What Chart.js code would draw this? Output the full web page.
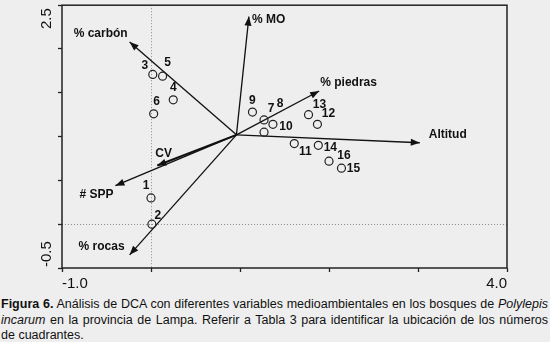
<!DOCTYPE html>
<html>
<head>
<meta charset="utf-8">
<script src="https://cdn.jsdelivr.net/npm/chart.js@4.4.0/dist/chart.umd.min.js"></script>
<style>
  body { margin: 0; background: #eeeeee; width: 550px; height: 342px; overflow: hidden; font-family: Arial, "Liberation Sans", sans-serif; }
  #wrap { position: relative; width: 550px; height: 342px; }
  canvas { position: absolute; left: 0; top: 0; }
  #caption { position: absolute; left: 1px; top: 297px; width: 547px; font-size: 12.5px; line-height: 15.5px; color: #111; }
  #caption div { white-space: nowrap; text-align: justify; text-align-last: justify; }
  #caption div.last { text-align-last: left; }
</style>
</head>
<body>
<div id="wrap">
  <canvas id="dcaChart" width="550" height="295"></canvas>
  <div id="caption">
    <div><b>Figura 6.</b> Análisis de DCA con diferentes variables medioambientales en los bosques de <i>Polylepis</i></div>
    <div><i>incarum</i> en la provincia de Lampa. Referir a Tabla 3 para identificar la ubicación de los números</div>
    <div class="last">de cuadrantes.</div>
  </div>
</div>
<script>
// sample units (cuadrantes)
var siteNames = ['1', '2', '3', '4', '5', '6', '7', '8', '9', '10', '11', '12', '13', '14', '15', '16'];
var siteX = [0.00, 0.01, 0.02, 0.25, 0.13, 0.03, 1.27, 1.27, 1.14, 1.37, 1.61, 1.87, 1.77, 1.88, 2.14, 2.00];
var siteY = [0.30, 0.00, 1.71, 1.42, 1.69, 1.26, 1.19, 1.05, 1.28, 1.14, 0.92, 1.14, 1.25, 0.90, 0.64, 0.72];

// environmental vectors
var vectorNames = ['% MO', '% carbón', '% piedras', 'Altitud', 'CV', '# SPP', '% rocas'];
var vectorX = [1.10, -0.24, 1.89, 3.02, 0.07, -0.40, -0.24];
var vectorY = [2.37, 2.08, 1.52, 0.93, 0.67, 0.44, -0.35];
var originX = 0.96;
var originY = 1.02;

// axis labels that are shown
var xTickLabels = [-1.0, 4.0];
var yTickLabels = [-0.5, 2.5];

// label placement (pixels from the mark)
var siteLabelOffset = {
  '1': [-5, -12], '2': [6, -9], '3': [-8, -9], '4': [0, -12], '5': [5, -13], '6': [3, -12],
  '7': [7, -11], '8': [16, -29], '9': [0, -11], '10': [13, 2], '11': [11, 8], '12': [11, -11],
  '13': [11, -10], '14': [12, 2], '15': [12, 1], '16': [15, -5]
};
var vectorLabelPos = {
  '% MO': [3, 3, 'left'], '% carbón': [-2, -8, 'right'], '% piedras': [1, -8, 'left'],
  'Altitud': [9, -8, 'left'], 'CV': [-2, -12, 'left'], '# SPP': [-2, 9, 'right'], '% rocas': [-5, -8, 'right']
};

var ink = '#111111';

var datasets = [{
  label: 'cuadrantes',
  data: siteX.map(function (x, i) { return { x: x, y: siteY[i] }; }),
  pointRadius: 4,
  pointBorderWidth: 1.2,
  pointBorderColor: '#222222',
  pointBackgroundColor: 'rgba(0,0,0,0)',
  showLine: false
}];
vectorNames.forEach(function (name, i) {
  datasets.push({
    label: name,
    data: [{ x: originX, y: originY }, { x: vectorX[i], y: vectorY[i] }],
    showLine: true,
    pointRadius: 0,
    borderColor: ink,
    borderWidth: name === 'CV' ? 2 : 1.3
  });
});

var dcaDecor = {
  id: 'dcaDecor',
  beforeDatasetsDraw: function (chart) {
    var ctx = chart.ctx, a = chart.chartArea, xs = chart.scales.x, ys = chart.scales.y;
    var x0 = Math.round(xs.getPixelForValue(0)) + 0.5;
    var y0 = Math.round(ys.getPixelForValue(0)) + 0.5;
    ctx.save();
    ctx.strokeStyle = '#8c8c8c';
    ctx.lineWidth = 1;
    ctx.setLineDash([1, 2]);
    ctx.beginPath();
    ctx.moveTo(x0, a.top); ctx.lineTo(x0, a.bottom);
    ctx.moveTo(a.left, y0); ctx.lineTo(a.right, y0);
    ctx.stroke();
    ctx.restore();
  },
  afterDatasetsDraw: function (chart) {
    var ctx = chart.ctx, a = chart.chartArea, xs = chart.scales.x, ys = chart.scales.y;
    ctx.save();
    var ox = xs.getPixelForValue(originX), oy = ys.getPixelForValue(originY);

    // arrow heads + vector names
    ctx.fillStyle = ink;
    ctx.font = 'bold 12px Arial, "Liberation Sans", sans-serif';
    ctx.textBaseline = 'middle';
    vectorNames.forEach(function (name, i) {
      var tx = xs.getPixelForValue(vectorX[i]), ty = ys.getPixelForValue(vectorY[i]);
      var ang = Math.atan2(ty - oy, tx - ox);
      var len = 9, half = 3.5;
      ctx.beginPath();
      ctx.moveTo(tx, ty);
      ctx.lineTo(tx - len * Math.cos(ang) + half * Math.sin(ang), ty - len * Math.sin(ang) - half * Math.cos(ang));
      ctx.lineTo(tx - len * Math.cos(ang) - half * Math.sin(ang), ty - len * Math.sin(ang) + half * Math.cos(ang));
      ctx.closePath();
      ctx.fill();
      var p = vectorLabelPos[name];
      ctx.textAlign = p[2];
      ctx.fillText(name, tx + p[0], ty + p[1]);
    });

    // site numbers
    ctx.textAlign = 'center';
    siteNames.forEach(function (name, i) {
      var px = xs.getPixelForValue(siteX[i]), py = ys.getPixelForValue(siteY[i]);
      var o = siteLabelOffset[name];
      ctx.fillText(name, px + o[0], py + o[1]);
    });

    // frame
    ctx.strokeStyle = '#222222';
    ctx.lineWidth = 1.5;
    ctx.strokeRect(a.left, a.top, a.right - a.left, a.bottom - a.top);

    // rotated y labels
    ctx.font = '15px Arial, "Liberation Sans", sans-serif';
    ctx.fillStyle = ink;
    yTickLabels.forEach(function (v, i) {
      var py = ys.getPixelForValue(v);
      ctx.save();
      ctx.translate(47, i === 0 ? py - 1 : py + 3);
      ctx.rotate(-Math.PI / 2);
      ctx.textAlign = i === 0 ? 'left' : 'right';
      ctx.textBaseline = 'middle';
      ctx.fillText(v.toFixed(1), 0, 0);
      ctx.restore();
    });
    ctx.restore();
  }
};

var dcaChart = new Chart(document.getElementById('dcaChart').getContext('2d'), {
  type: 'scatter',
  data: { datasets: datasets },
  plugins: [dcaDecor],
  options: {
    responsive: false,
    animation: false,
    layout: { padding: { top: 2, right: 43, left: 0, bottom: 0 } },
    plugins: { legend: { display: false }, tooltip: { enabled: false } },
    scales: {
      x: {
        type: 'linear',
        min: -1,
        max: 4,
        afterFit: function (s) { s.height = 27; },
        border: { display: false },
        grid: { drawOnChartArea: false, drawTicks: true, tickLength: 4, tickColor: '#222222', tickWidth: 1.3 },
        ticks: {
          stepSize: 1,
          autoSkip: false,
          maxRotation: 0,
          align: 'inner',
          padding: 3,
          color: ink,
          font: { family: 'Arial, "Liberation Sans", sans-serif', size: 15 },
          callback: function (v) { return xTickLabels.indexOf(v) >= 0 ? v.toFixed(1) : ''; }
        }
      },
      y: {
        type: 'linear',
        min: -0.5,
        max: 2.5,
        afterFit: function (s) { s.width = 62; },
        border: { display: false },
        grid: { drawOnChartArea: false, drawTicks: true, tickLength: 4, tickColor: '#222222', tickWidth: 1.3 },
        ticks: { stepSize: 0.5, display: false }
      }
    }
  }
});
</script>
</body>
</html>
